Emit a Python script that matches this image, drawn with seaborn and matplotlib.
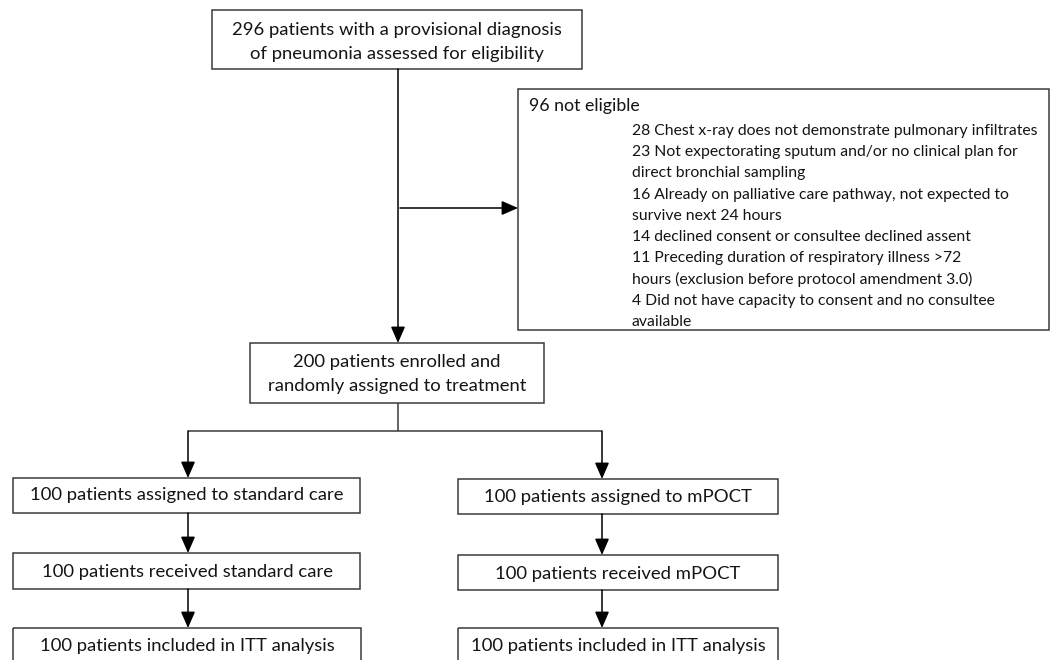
import matplotlib
matplotlib.use("Agg")
import matplotlib.pyplot as plt
from matplotlib.patches import Rectangle
import seaborn as sns

# ---------------- data ----------------
screened_text = ["296 patients with a provisional diagnosis",
                 "of pneumonia assessed for eligibility"]
excluded_title = "96 not eligible"
excluded_lines = [
    "28 Chest x-ray does not demonstrate pulmonary infiltrates",
    "23 Not expectorating sputum and/or no clinical plan for",
    "direct bronchial sampling",
    "16 Already on palliative care pathway, not expected to",
    "survive next 24 hours",
    "14 declined consent or consultee declined assent",
    "11 Preceding duration of respiratory illness >72",
    "hours (exclusion before protocol amendment 3.0)",
    "4 Did not have capacity to consent and no consultee",
    "available",
]
enrolled_text = ["200 patients enrolled and",
                 "randomly assigned to treatment"]
left_arm = ["100 patients assigned to standard care",
            "100 patients received standard care",
            "100 patients included in ITT analysis"]
right_arm = ["100 patients assigned to mPOCT",
             "100 patients received mPOCT",
             "100 patients included in ITT analysis"]

# ---------------- layout (pixels) ----------------
W, H = 1051, 660
sns.set_theme(style="white")
plt.rcParams['font.family'] = ['Lato', 'DejaVu Sans']

fig = plt.figure(figsize=(W / 100, H / 100), dpi=100)
ax = fig.add_axes([0, 0, 1, 1])
ax.set_xlim(0, W)
ax.set_ylim(H, 0)
ax.axis("off")

EDGE = "#3a3a3a"
TXT = "#141414"
LW = 1.1
BOX_FS = 13.3


def box(x0, y0, x1, y1):
    ax.add_patch(Rectangle((x0, y0), x1 - x0, y1 - y0, fill=False,
                           edgecolor=EDGE, linewidth=LW))


def arrow(x0, y0, x1, y1):
    ax.annotate("", xy=(x1, y1), xytext=(x0, y0),
                arrowprops=dict(arrowstyle="-|>,head_length=0.55,head_width=0.24",
                                mutation_scale=18, color="black", lw=LW,
                                shrinkA=0, shrinkB=0))


def line(xs, ys):
    ax.plot(xs, ys, color=EDGE, lw=LW, solid_capstyle="butt")


def text(x, y, s, size, ha="center"):
    ax.text(x, y, s, ha=ha, va="center", fontsize=size, color=TXT)


# top box
box(212, 10, 582, 69)
for s, y in zip(screened_text, [30, 54]):
    text(397, y, s, BOX_FS)

# exclusion box
box(518, 89, 1049, 330)
text(529, 106, excluded_title, 12.8, ha="left")
for i, s in enumerate(excluded_lines):
    text(632, 131 + i * 21.2, s, 11.3, ha="left")

# main flow
arrow(398, 69, 398, 343)
arrow(400, 208, 518, 208)

box(250, 343, 544, 403)
for s, y in zip(enrolled_text, [362, 386]):
    text(397, y, s, BOX_FS)

line([398, 398], [403, 431])
line([188, 602], [431, 431])
arrow(188, 431, 188, 478)
arrow(602, 431, 602, 479)

# left arm
left_boxes = [(13, 478, 360, 513), (13, 553, 360, 589), (13, 628, 361, 672)]
left_ty = [495, 572, 646]
for (x0, y0, x1, y1), s, ty in zip(left_boxes, left_arm, left_ty):
    box(x0, y0, x1, y1)
    text(187, ty, s, BOX_FS)
arrow(188, 513, 188, 553)
arrow(188, 589, 188, 628)

# right arm
right_boxes = [(458, 479, 778, 514), (458, 555, 778, 590), (458, 628, 778, 672)]
right_ty = [497, 574, 646]
for (x0, y0, x1, y1), s, ty in zip(right_boxes, right_arm, right_ty):
    box(x0, y0, x1, y1)
    text(618, ty, s, BOX_FS)
arrow(602, 514, 602, 555)
arrow(602, 590, 602, 628)

fig.savefig("out.png", dpi=100, facecolor="white")
